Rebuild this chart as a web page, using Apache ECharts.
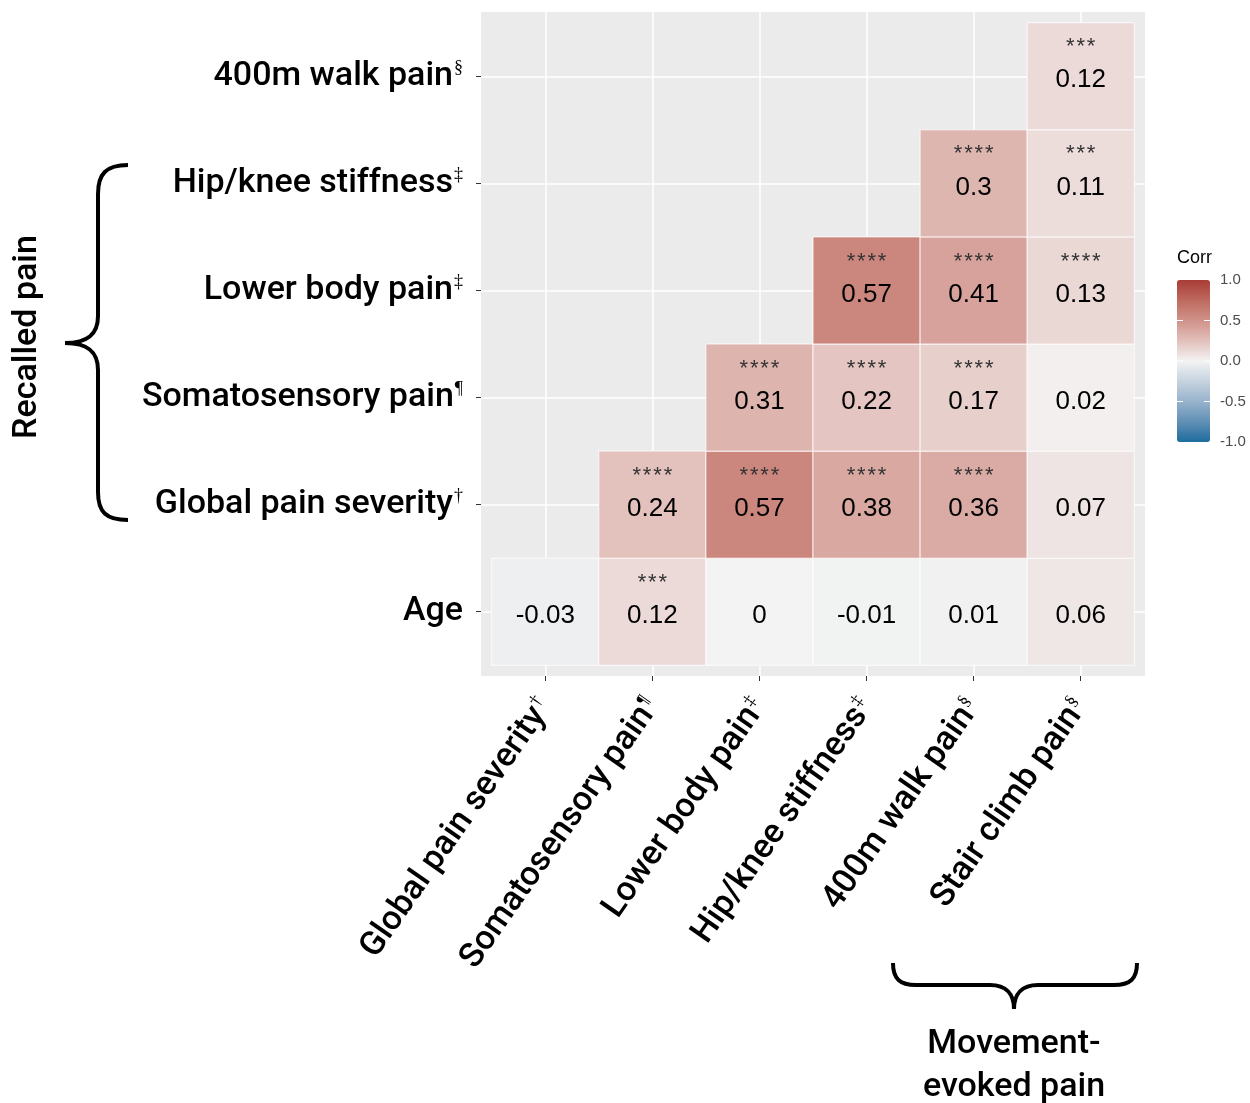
<!DOCTYPE html>
<html>
<head>
<meta charset="utf-8">
<style>
  html, body { margin: 0; padding: 0; background: #fff; }
  #chart { width: 1250px; height: 1103px; }
</style>
<script src="https://cdn.jsdelivr.net/npm/echarts@6/dist/echarts.min.js"></script>
</head>
<body>
<div id="chart"></div>
<script>
// columns (x) and rows (y, bottom to top)
const colNames = ["Global pain severity", "Somatosensory pain", "Lower body pain", "Hip/knee stiffness", "400m walk pain", "Stair climb pain"];
const colMarks = ["†", "¶", "‡", "‡", "§", "§"];
const rowNames = ["Age", "Global pain severity", "Somatosensory pain", "Lower body pain", "Hip/knee stiffness", "400m walk pain"];
const rowMarks = ["", "†", "¶", "‡", "‡", "§"];

// correlation per row, one entry per column (null = not shown)
const ageCorr     = [-0.03, 0.12, 0, -0.01, 0.01, 0.06];
const globalCorr  = [null, 0.24, 0.57, 0.38, 0.36, 0.07];
const somatoCorr  = [null, null, 0.31, 0.22, 0.17, 0.02];
const lowerCorr   = [null, null, null, 0.57, 0.41, 0.13];
const hipCorr     = [null, null, null, null, 0.3, 0.11];
const walkCorr    = [null, null, null, null, null, 0.12];

const ageStars    = ["", "***", "", "", "", ""];
const globalStars = ["", "****", "****", "****", "****", ""];
const somatoStars = ["", "", "****", "****", "****", ""];
const lowerStars  = ["", "", "", "****", "****", "****"];
const hipStars    = ["", "", "", "", "****", "***"];
const walkStars   = ["", "", "", "", "", "***"];

const legendTicks = [1, 0.5, 0, -0.5, -1];
const legendTickText = ["1.0", "0.5", "0.0", "-0.5", "-1.0"];

const corrRows = [ageCorr, globalCorr, somatoCorr, lowerCorr, hipCorr, walkCorr];
const starRows = [ageStars, globalStars, somatoStars, lowerStars, hipStars, walkStars];

const cells = [];
const cellStars = [];
corrRows.forEach((row, r) => {
  row.forEach((v, c) => {
    if (v === null) return;
    cells.push([c, r, v]);
    cellStars.push(starRows[r][c]);
  });
});

const idx = [0, 1, 2, 3, 4, 5];
const labelFont = "Roboto, 'Noto Sans', sans-serif";
const cellFont = "'Liberation Sans', Arial, sans-serif";

const richStyle = {
  n: { fontSize: 34, fontFamily: labelFont, fontWeight: 500, color: "#000" },
  s: { fontSize: 18, fontFamily: "'Liberation Serif', serif", color: "#000", verticalAlign: "top", padding: [0, 0, 0, 1] }
};

// colour bar geometry
const barLeft = 1177, barTop = 280, barW = 33, barH = 162;

function renderCell(params, api) {
  const x = api.value(0), y = api.value(1), v = api.value(2);
  const p0 = api.coord([x - 0.5, y + 0.5]);
  const p1 = api.coord([x + 0.5, y - 0.5]);
  const w = p1[0] - p0[0], h = p1[1] - p0[1];
  const cx = p0[0] + w / 2, cy = p0[1] + h / 2;
  const stars = cellStars[params.dataIndex];
  const kids = [
    {
      type: "rect",
      shape: { x: p0[0], y: p0[1], width: w, height: h },
      style: { fill: api.visual("color"), stroke: "rgba(255,255,255,0.8)", lineWidth: 1 }
    },
    {
      type: "text", x: cx, y: cy + 4,
      style: { text: String(v), fontSize: 26, fontFamily: cellFont, fill: "#000", align: "center", verticalAlign: "middle" }
    }
  ];
  if (stars) {
    kids.push({
      type: "text", x: cx, y: cy - 29,
      style: { text: stars.split("").join("\u200A"), fontSize: 22, fontFamily: cellFont, fill: "#333", align: "center", verticalAlign: "middle" }
    });
  }
  return { type: "group", children: kids };
}

const legendGraphics = [];
legendTicks.forEach((t, i) => {
  const y = barTop + (1 - (t + 1) / 2) * barH;
  legendGraphics.push({
    type: "text", x: barLeft + barW + 10, y: y,
    style: { text: legendTickText[i], fontSize: 15, fontFamily: cellFont, fill: "#4D4D4D", align: "left", verticalAlign: "middle" }
  });
  if (t !== 1 && t !== -1) {
    legendGraphics.push({ type: "line", shape: { x1: barLeft, y1: y, x2: barLeft + 6, y2: y }, style: { stroke: "#fff", lineWidth: 1 }, z: 100 });
    legendGraphics.push({ type: "line", shape: { x1: barLeft + barW - 6, y1: y, x2: barLeft + barW, y2: y }, style: { stroke: "#fff", lineWidth: 1 }, z: 100 });
  }
});

// curly braces: [x1,y1,x2,y2] lines and [x1,y1,cx1,cy1,cx2,cy2,x2,y2] curves
const braceStyle = { fill: null, stroke: "#000", lineWidth: 4 };
function brace(parts) {
  return parts.map((p) => p.length === 4
    ? { type: "line", shape: { x1: p[0], y1: p[1], x2: p[2], y2: p[3] }, style: braceStyle }
    : { type: "bezierCurve", shape: { x1: p[0], y1: p[1], cpx1: p[2], cpy1: p[3], cpx2: p[4], cpy2: p[5], x2: p[6], y2: p[7] }, style: braceStyle });
}
const leftBrace = brace([
  [128, 165, 106, 165, 98, 174, 98, 194],
  [98, 194, 98, 316],
  [98, 316, 98, 334, 88, 343, 65, 343],
  [65, 343, 88, 343, 98, 352, 98, 370],
  [98, 370, 98, 492],
  [98, 492, 98, 512, 106, 520, 128, 520]
]);
const bottomBrace = brace([
  [893, 963, 893, 979, 900, 985, 916, 985],
  [916, 985, 990, 985],
  [990, 985, 1006, 985, 1014, 994, 1014, 1009],
  [1014, 1009, 1014, 994, 1022, 985, 1038, 985],
  [1038, 985, 1114, 985],
  [1114, 985, 1130, 985, 1137, 979, 1137, 963]
]);

const chart = echarts.init(document.getElementById("chart"));

chart.setOption({
  backgroundColor: "#fff",
  animation: false,
  grid: { left: 481, top: 12, width: 664, height: 664, show: true, backgroundColor: "#EBEBEB", borderWidth: 0 },
  xAxis: {
    type: "value", min: -0.6, max: 5.6,
    axisLine: { show: false, onZero: false },
    axisTick: { show: true, customValues: idx, length: 5, lineStyle: { color: "#333", width: 1 } },
    splitLine: { show: true, lineStyle: { color: "#fff", width: 1.5 } },
    axisLabel: {
      customValues: idx, rotate: 55, margin: 26,
      formatter: (v) => `{n|${colNames[Math.round(v)]}}{s|${colMarks[Math.round(v)]}}`,
      rich: richStyle
    }
  },
  yAxis: {
    type: "value", min: -0.6, max: 5.6,
    axisLine: { show: false, onZero: false },
    axisTick: { show: true, customValues: idx, length: 5, lineStyle: { color: "#333", width: 1 } },
    splitLine: { show: true, lineStyle: { color: "#fff", width: 1.5 } },
    axisLabel: {
      customValues: idx, margin: 18,
      formatter: (v) => {
        const i = Math.round(v);
        return rowMarks[i] ? `{n|${rowNames[i]}}{s|${rowMarks[i]}}` : `{n|${rowNames[i]}}`;
      },
      rich: richStyle
    }
  },
  visualMap: {
    type: "continuous", min: -1, max: 1, dimension: 2, seriesIndex: 0,
    calculable: false, hoverLink: false,
    left: barLeft, top: barTop, itemWidth: barW, itemHeight: barH, padding: 0,
    text: null,
    inRange: {
      color: ["#1E6C9E", "#6190B5", "#97B3CC", "#C6D3DF", "#F3F3F3", "#E2BFBA", "#D0928A", "#BE6A5F", "#A83C35"]
    }
  },
  series: [{
    type: "custom",
    renderItem: renderCell,
    data: cells,
    encode: { x: 0, y: 1 },
    z: 5
  }],
  graphic: [
    {
      type: "text", x: barLeft, y: barTop - 22,
      style: { text: "Corr", fontSize: 18, fontFamily: cellFont, fill: "#000", align: "left", verticalAlign: "middle" }
    },
    ...legendGraphics,
    ...leftBrace,
    ...bottomBrace,
    {
      type: "text", x: 27, y: 337, rotation: Math.PI / 2,
      style: { text: "Recalled pain", fontSize: 34, fontFamily: labelFont, fontWeight: 500, fill: "#000", align: "center", verticalAlign: "middle" }
    },
    {
      type: "text", x: 1014, y: 1066,
      style: { text: "Movement-\nevoked pain", fontSize: 34, lineHeight: 43, fontFamily: labelFont, fontWeight: 500, fill: "#000", align: "center", verticalAlign: "middle" }
    }
  ]
});

window.addEventListener("resize", () => chart.resize());
</script>
</body>
</html>
